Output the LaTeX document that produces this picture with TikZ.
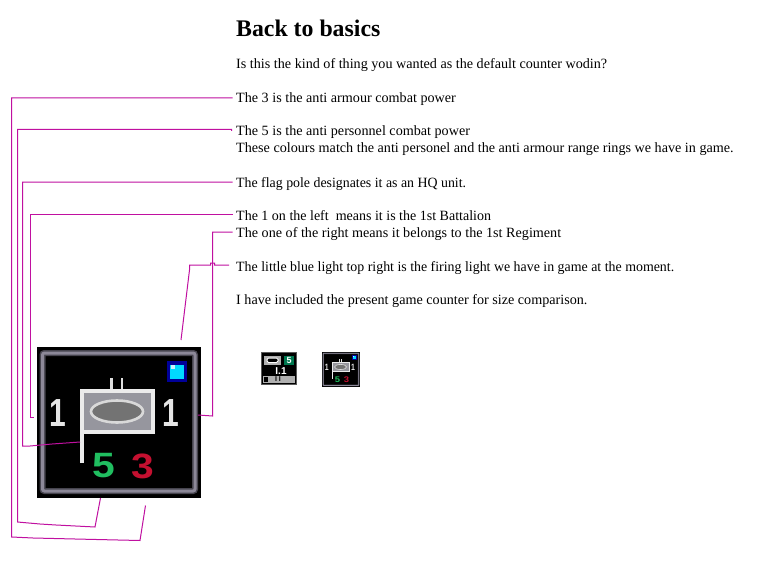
\documentclass[tikz,border=0pt]{standalone}
\usepackage{fontspec}
\setmainfont{Liberation Serif}
\newfontfamily\cntfont{Liberation Sans}
\definecolor{leader}{RGB}{192,16,160}
\definecolor{framegrey}{RGB}{140,136,152}
\definecolor{frameglow}{RGB}{70,68,78}
\definecolor{flaggrey}{RGB}{150,150,158}
\definecolor{stripgrey}{RGB}{176,176,176}
\definecolor{cntgreen}{RGB}{32,190,96}
\definecolor{cntred}{RGB}{196,16,48}
\definecolor{boxgreen}{RGB}{0,120,80}
\tikzset{
  note/.style={anchor=west,inner sep=0pt,text height=9.4pt,text depth=3pt,font=\fontsize{14.15}{16}\selectfont,text=black},
  headline/.style={anchor=west,inner sep=0pt,font=\fontsize{23.8}{26}\selectfont\bfseries,text=black},
  leaderline/.style={draw=leader,line width=1pt},
  digit/.style={inner sep=0pt,font=\fontsize{40}{40}\selectfont\cntfont\bfseries},
  tinytext/.style={inner sep=0pt,font=\fontsize{#1}{#1}\selectfont\cntfont\bfseries},
}
\newcommand{\hqcounter}[4]{%
  \begin{scope}[shift={(#1,#2)},scale=#3,transform shape]
    \fill[black] (0,0) rectangle (164,151);
    \draw[frameglow,line width=#3*6pt,rounded corners=#3*2pt] (5.5,6) rectangle (158,144);
    \draw[framegrey,line width=#3*3pt,rounded corners=#3*2pt] (5.5,6) rectangle (158,144);
    \fill[blue!60!black] (130,14) rectangle (150,35);
    \fill[blue!15!cyan] (133,18) rectangle (147,32);
    \fill[white!80!cyan] (134,18) rectangle (138,22);
    \draw[white!88!black,line width=#3*2.6pt] (74.7,44) -- (74.7,31) (85,44) -- (85,31);
    \draw[white!92!black,line width=#3*3.4pt,fill=flaggrey] (45,44) rectangle (116,85);
    \draw[white!92!black,line width=#3*3.4pt] (45,44) -- (45,116);
    \draw[white!85!black,line width=#3*2.6pt,fill=gray!90!black] (80,64.5) ellipse [x radius=26,y radius=11];
    \node[digit,text=white!90!black,xscale=.75,yscale=.98] (#4a) at (21,66.5) {1};
    \node[digit,text=white!90!black,xscale=.75,yscale=.98] (#4b) at (134,66.5) {1};
    \node[digit,text=cntgreen,xscale=1.02,yscale=.88] (#4c) at (66.5,119) {5};
    \node[digit,text=cntred,xscale=1.02,yscale=.88] (#4d) at (106,119) {3};
  \end{scope}}
\begin{document}
\begin{tikzpicture}[x=1pt,y=-1pt]
  \useasboundingbox (0,0) rectangle (763,567);
  \fill[white] (0,0) rectangle (763,567);

  \node[headline] (title) at (236,28.5) {Back to basics};
  \node[note] (t0) at (236,65.8) {Is this the kind of thing you wanted as the default counter wodin?};
  \node[note] (t1) at (236,99.8) {The 3 is the anti armour combat power};
  \node[note] (t2) at (236,132.8) {The 5 is the anti personnel combat power};
  \node[note] (t2b) at (236,149.8) {These colours match the anti personel and the anti armour range rings we have in game.};
  \node[note,xscale=.98] (t3) at (236,183.8) {The flag pole designates it as an HQ unit.};
  \node[note,xscale=.99] (t4) at (236,216.8) {The 1 on the left\ \ means it is the 1st Battalion};
  \node[note] (t5) at (236,233.8) {The one of the right means it belongs to the 1st Regiment};
  \node[note,xscale=.982] (t6) at (236,267.8) {The little blue light top right is the firing light we have in game at the moment.};
  \node[note] (t7) at (236,300.8) {I have included the present game counter for size comparison.};

  \hqcounter{37}{347}{1}{big}

  % present game counter
  \fill[black] (261,352) rectangle (297,385);
  \draw[gray!70!black,line width=.7pt] (261.5,352.5) rectangle (296.5,384.5);
  \fill[stripgrey] (264,356) rectangle (281,364.5);
  \draw[white,line width=1pt,fill=black,rounded corners=1.5pt] (267,358) rectangle (278,362.5);
  \fill[boxgreen] (284,356) rectangle (294,365);
  \node[tinytext=9,text=white] (oldfive) at (289,360.7) {5};
  \node[tinytext=10,text=white] (oldunit) at (281,371) {I.1};
  \fill[stripgrey] (263,376) rectangle (295,383);
  \fill[black] (264,377) rectangle (268,382);
  \node[tinytext=7,text=black] (oldbars) at (278,379.5) {I I};

  % new counter, small
  \hqcounter{322}{352}{0.232}{small}

  % connectors
  \coordinate (e1) at (145.5,505.5);
  \coordinate (e2) at (100.5,498);
  \coordinate (e3) at (80,442);
  \coordinate (e4) at (34,417.7);
  \coordinate (e5) at (198,415);
  \coordinate (e6) at (181,340);
  \draw[leaderline] (t1.west) ++(-3.5,-1.8) -- (11.5,98) -- (11.5,537) -- (33,538) -- (75,539) -- (118,540) -- (140,540.5) -- (e1);
  \draw[leaderline] (231.5,131) -- (231.5,129.5) -- (17.5,129.5) -- (17.5,522) -- (40,524) -- (56,525) -- (95,527) -- (e2);
  \draw[leaderline] (t3.west) ++(-3.5,-1.8) -- (22.5,182) -- (22.5,446) -- (30,446) -- (52,444) -- (e3);
  \draw[leaderline] (t4.west) ++(-3.5,-2.3) -- (30.5,214.5) -- (30.5,417.7) -- (e4);
  \draw[leaderline] (t5.west) ++(-3.5,-1.8) -- (212.5,232) -- (212.5,416) -- (e5);
  \draw[leaderline] (t6.west) ++(-7,-2.8) -- (214.5,265) -- (214.5,263) -- (210.5,263) -- (210.5,265) -- (189.5,265) -- (189.5,270) -- (e6);
\end{tikzpicture}
\end{document}
